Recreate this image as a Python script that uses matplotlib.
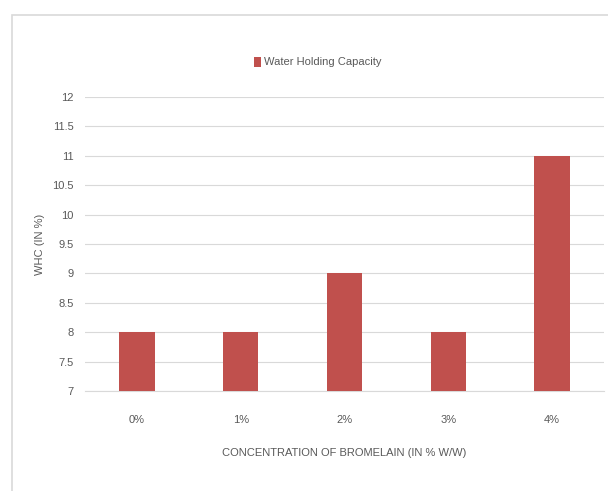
import matplotlib
matplotlib.use("Agg")
import matplotlib.pyplot as plt
from matplotlib.patches import Rectangle

categories = ["0%", "1%", "2%", "3%", "4%"]
whc_values = [8, 8, 9, 8, 11]
y_ticks = [7, 7.5, 8, 8.5, 9, 9.5, 10, 10.5, 11, 11.5, 12]
y_tick_labels = ["7", "7.5", "8", "8.5", "9", "9.5", "10", "10.5", "11", "11.5", "12"]

plt.rcParams['font.family'] = ['Liberation Sans Narrow', 'Liberation Sans', 'DejaVu Sans']

fig = plt.figure(figsize=(6.08, 4.91), dpi=100)
fig.patch.set_facecolor("white")

# outer chart frame
fig.patches.append(Rectangle((12 / 608, -0.05), 1.0, 1 - 15 / 491 + 0.05,
                             transform=fig.transFigure, fill=False,
                             edgecolor="#d9d9d9", linewidth=1.2))

ax = fig.add_axes([85 / 608, 1 - 391 / 491, 519 / 608, (391 - 97) / 491])
x = range(len(categories))
bars = ax.bar(x, whc_values, width=0.34, color="#c0504d", zorder=3,
              label="Water Holding Capacity")

ax.set_xlim(-0.5, len(categories) - 0.5)
ax.set_ylim(7, 12)
ax.set_yticks(y_ticks)
ax.set_yticklabels(y_tick_labels)
ax.set_xticks(list(x))
ax.set_xticklabels(categories)

ax.grid(axis="y", color="#d9d9d9", linewidth=0.8, zorder=0)
for s in ["top", "right", "left"]:
    ax.spines[s].set_visible(False)
ax.spines["bottom"].set_color("#d9d9d9")
ax.tick_params(axis="both", length=0, colors="#595959", labelsize=8)
ax.tick_params(axis="x", pad=17)
ax.tick_params(axis="y", pad=8)

ax.set_xlabel("CONCENTRATION OF BROMELAIN (IN % W/W)", color="#595959",
              fontsize=8, labelpad=17)
ax.set_ylabel("WHC (IN %)", color="#595959", fontsize=8, labelpad=5)

leg = fig.legend(handles=[bars], labels=["Water Holding Capacity"],
                 loc="center", bbox_to_anchor=(318 / 608, 1 - 62 / 491),
                 frameon=False, fontsize=8, handlelength=0.6, handleheight=1.0,
                 handletextpad=0.3, labelcolor="#595959")

fig.savefig("out.png", dpi=100, facecolor="white")
